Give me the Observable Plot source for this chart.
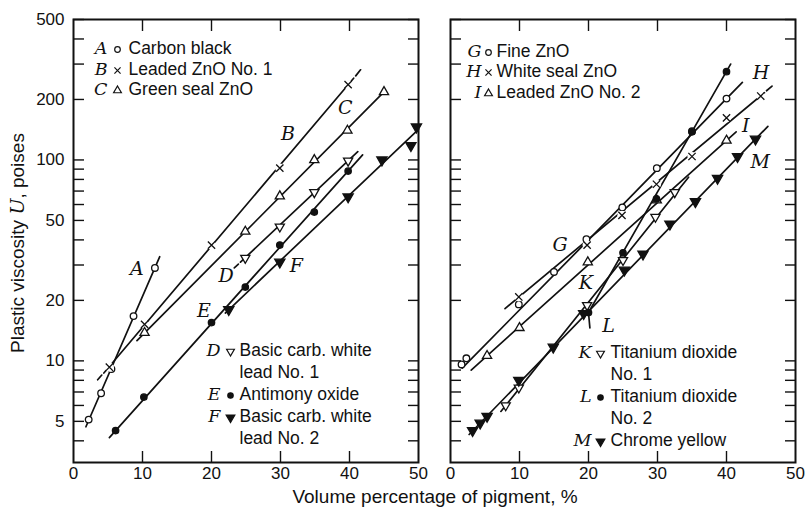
<!DOCTYPE html>
<html>
<head>
<meta charset="utf-8">
<script src="https://cdn.jsdelivr.net/npm/d3@7"></script>
<script src="https://cdn.jsdelivr.net/npm/@observablehq/plot@0.6"></script>
<style>
  body { margin: 0; background: #fff; }
  #chart { width: 806px; height: 514px; }
</style>
</head>
<body>
<div id="chart"></div>
<script>
// ---------------- DATA ----------------
const panels = ["left", "right"];
const xTicks = [0, 10, 20, 30, 40, 50];
const xInnerTicks = [10, 20, 30, 40];
const yTicks = [4, 5, 6, 7, 8, 9, 10, 20, 30, 40, 50, 60, 70, 80, 90, 100, 200, 300, 400, 500];
const yTickLabels = [5, 10, 20, 50, 100, 200, 500];

const seriesKeys  = ["A", "B", "C", "D", "E", "F", "G", "H", "I", "K", "L", "M"];
const seriesPanel = ["left", "left", "left", "left", "left", "left", "right", "right", "right", "right", "right", "right"];
const seriesNames = [
  "Carbon black", "Leaded ZnO No. 1", "Green seal ZnO",
  "Basic carb. white\nlead No. 1", "Antimony oxide", "Basic carb. white\nlead No. 2",
  "Fine ZnO", "White seal ZnO", "Leaded ZnO No. 2",
  "Titanium dioxide\nNo. 1", "Titanium dioxide\nNo. 2", "Chrome yellow"
];

// measured points: [volume %, plastic viscosity U (poises)]
const ptsA = [[2.2, 5.1], [4, 6.9], [5.5, 9.1], [8.7, 16.7], [11.8, 29]];
const ptsB = [[5.2, 9.3], [10.3, 15.2], [20, 37.7], [29.9, 91], [39.8, 237]];
const ptsC = [[10.3, 13.8], [24.9, 44], [29.9, 66], [34.9, 100], [39.7, 140], [45, 218]];
const ptsD = [[24.9, 32.5], [29.9, 46.5], [34.9, 69], [39.8, 99]];
const ptsE = [[6.1, 4.5], [10.2, 6.6], [20, 15.5], [24.9, 23.3], [29.9, 37.7], [34.9, 55], [39.8, 88]];
const ptsF = [[22.5, 18], [29.9, 31], [39.8, 65.5], [44.7, 100], [48.9, 118], [49.7, 146]];
const ptsG = [[1.6, 9.6], [2.3, 10.3], [9.9, 19.1], [15, 27.7], [19.7, 40.3], [24.9, 58], [29.9, 91], [35, 139], [40, 202]];
const ptsH = [[9.9, 20.8], [19.8, 37.7], [24.85, 53], [29.85, 75.7], [35, 104], [40, 162], [44.96, 208]];
const ptsI = [[5.3, 10.6], [10, 14.6], [19.9, 31], [29.9, 63], [40, 125]];
const ptsK = [[8, 6], [9.9, 7.35], [19.8, 18.9], [25, 31.7], [29.7, 52], [32.5, 69]];
const ptsL = [[20, 17.4], [25, 34.5], [29.85, 64], [35, 138], [40, 275]];
const ptsM = [[3.2, 4.5], [4.3, 4.9], [5.3, 5.3], [9.9, 8], [14.9, 11.7], [19.3, 17.2], [25.2, 28.3], [27.9, 34], [31.8, 48], [35.5, 62], [38.7, 81], [41.6, 104], [44.2, 127]];

// drawn fitted lines (vertices)
const fitA = [[1.8, 4.7], [12.5, 33]];
const fitB = [[4.4, 8.7], [40.6, 255]];
const fitC = [[9.2, 12.6], [45, 218]];
const fitD = [[24.2, 31], [41.2, 110]];
const fitE = [[5.2, 4.15], [41.9, 106]];
const fitF = [[22, 17.3], [50, 142]];
const fitG = [[1.7, 9.2], [20, 40], [42.3, 243]];
const fitH = [[7.9, 18.2], [45.5, 216]];
const fitI = [[3, 9.0], [41.4, 138]];
const fitK = [[7.3, 5.6], [34.5, 82]];
const fitL = [[20.2, 14.6], [20, 17.4], [40.6, 300]];
const fitM = [[2.7, 4.3], [46, 147]];
// short dashed ends drawn beyond the solid lines
const dashB = [[3.5, 8.05], [4.1, 8.5], [null, null], [40.9, 262], [41.6, 281]];
const dashD = [[23.3, 29], [23.9, 30.3]];
const dashH = [[45.8, 221], [46.6, 233]];

// where each curve letter is written (data units)
const labelX = [9.2, 31.1, 39.4, 22.1, 18.9, 32.3, 15.9, 45, 42.8, 19.6, 22.9, 44.9];
const labelU = [28.8, 135, 182, 26.6, 17.8, 29.8, 37.6, 272, 147, 24.3, 14.9, 97.3];

// ---------------- BUILD ----------------
const ptsOf = {A: ptsA, B: ptsB, C: ptsC, D: ptsD, E: ptsE, F: ptsF, G: ptsG, H: ptsH, I: ptsI, K: ptsK, L: ptsL, M: ptsM};
const fitOf = {A: fitA, B: fitB, C: fitC, D: fitD, E: fitE, F: fitF, G: fitG, H: fitH, I: fitI, K: fitK, L: fitL, M: fitM};
const dashOf = {B: dashB, D: dashD, H: dashH};

const triDown = {
  draw(ctx, size) {
    const y = Math.sqrt(size / (Math.sqrt(3) * 3));
    ctx.moveTo(0, 2 * y);
    ctx.lineTo(-Math.sqrt(3) * y, -y);
    ctx.lineTo(Math.sqrt(3) * y, -y);
    ctx.closePath();
  }
};
const INK = "#111";
const styleOf = {
  A: {symbol: "circle", r: 3.3, fill: "white", stroke: INK},
  B: {symbol: "times", r: 3.4, fill: "none", stroke: INK, halo: true},
  C: {symbol: "triangle", r: 3.4, fill: "white", stroke: INK},
  D: {symbol: triDown, r: 3.4, fill: "white", stroke: INK},
  E: {symbol: "circle", r: 3.2, fill: INK, stroke: INK},
  F: {symbol: triDown, r: 3.8, fill: INK, stroke: INK},
  G: {symbol: "circle", r: 3.3, fill: "white", stroke: INK},
  H: {symbol: "times", r: 3.4, fill: "none", stroke: INK, halo: true},
  I: {symbol: "triangle", r: 3.4, fill: "white", stroke: INK},
  K: {symbol: triDown, r: 3.4, fill: "white", stroke: INK},
  L: {symbol: "circle", r: 3.2, fill: INK, stroke: INK},
  M: {symbol: triDown, r: 3.8, fill: INK, stroke: INK}
};

const lineRows = seriesKeys.flatMap((k, i) => fitOf[k].map(([x, u]) => ({key: k, panel: seriesPanel[i], x, u})));
const dashRows = Object.keys(dashOf).flatMap(k => dashOf[k].map(([x, u]) => ({key: k, panel: seriesPanel[seriesKeys.indexOf(k)], x, u})));
const labelRows = seriesKeys.map((k, i) => ({key: k, panel: seriesPanel[i], x: labelX[i], u: labelU[i]}));

const SANS = "'Liberation Sans', Arial, Helvetica, sans-serif";
const SERIF = "'DejaVu Serif', 'Liberation Serif', serif";

const marks = [];
marks.push(Plot.line(lineRows, {x: "x", y: "u", z: "key", fx: "panel", stroke: INK, strokeWidth: 1.7}));
marks.push(Plot.line(dashRows, {x: "x", y: "u", z: "key", fx: "panel", stroke: INK, strokeWidth: 1.7}));

seriesKeys.forEach((k, i) => {
  const rows = ptsOf[k].map(([x, u]) => ({panel: seriesPanel[i], x, u}));
  const s = styleOf[k];
  if (s.halo) marks.push(Plot.dot(rows, {x: "x", y: "u", fx: "panel", r: 4.6, fill: "white", stroke: "none"}));
  marks.push(Plot.dot(rows, {x: "x", y: "u", fx: "panel", symbol: s.symbol, r: s.r, fill: s.fill, stroke: s.stroke, strokeWidth: 1.3}));
});

marks.push(Plot.text(labelRows, {x: "x", y: "u", fx: "panel", text: "key", fontFamily: SERIF, fontStyle: "italic", fontSize: 19, fill: INK}));

// legends (layout: panel, corner, row offsets)
const legendLayout = [
  {keys: ["A", "B", "C"], panel: "left", anchor: "top-left", dy0: 29, step: [21, 20], letterDx: 34, symDx: 44, textDx: 55},
  {keys: ["D", "E", "F"], panel: "left", anchor: "bottom-left", dy0: -112, step: [22], letterDx: 147, symDx: 157, textDx: 166},
  {keys: ["G", "H", "I"], panel: "right", anchor: "top-left", dy0: 32, step: [20, 21], letterDx: 31, symDx: 38, textDx: 46},
  {keys: ["K", "L", "M"], panel: "right", anchor: "bottom-left", dy0: -110, step: [22], letterDx: 141, symDx: 150, textDx: 160}
];
legendLayout.forEach(L => {
  let dy = L.dy0, n = 0;
  const d = [{panel: L.panel}];
  L.keys.forEach(k => {
    const i = seriesKeys.indexOf(k);
    const s = styleOf[k];
    marks.push(Plot.text(d, {fx: "panel", frameAnchor: L.anchor, dx: L.letterDx, dy, text: () => k, textAnchor: "end", lineAnchor: "middle", fontFamily: SERIF, fontStyle: "italic", fontSize: 17.5, fill: INK}));
    marks.push(Plot.dot(d, {fx: "panel", frameAnchor: L.anchor, dx: L.symDx, dy: dy + 1, symbol: s.symbol, r: s.r * 0.85, fill: s.fill, stroke: s.stroke, strokeWidth: 1.2}));
    seriesNames[i].split("\n").forEach(line => {
      marks.push(Plot.text(d, {fx: "panel", frameAnchor: L.anchor, dx: L.textDx, dy, text: () => line, textAnchor: "start", lineAnchor: "middle", fontFamily: SANS, fontSize: 17.5, fill: INK}));
      dy += L.step[Math.min(n, L.step.length - 1)];
      n++;
    });
  });
});

// axes
marks.push(Plot.frame({stroke: INK, strokeWidth: 2}));
marks.push(Plot.axisY({anchor: "left", ticks: yTicks, tickSize: -11, tickFormat: () => "", label: null, facetAnchor: null, stroke: INK, strokeWidth: 1.4}));
marks.push(Plot.axisY({anchor: "right", ticks: yTicks, tickSize: -11, tickFormat: () => "", label: null, facetAnchor: null, stroke: INK, strokeWidth: 1.4}));
marks.push(Plot.axisX({anchor: "bottom", ticks: xInnerTicks, tickSize: -11, tickFormat: () => "", label: null, facetAnchor: null, stroke: INK, strokeWidth: 1.4}));
marks.push(Plot.axisX({anchor: "top", ticks: xInnerTicks, tickSize: -11, tickFormat: () => "", label: null, facetAnchor: null, stroke: INK, strokeWidth: 1.4}));
marks.push(Plot.axisY({anchor: "left", ticks: yTickLabels, tickSize: 0, tickPadding: 9, tickFormat: d => String(d), label: null, facetAnchor: "left", fontSize: 17, fill: INK}));
marks.push(Plot.axisX({anchor: "bottom", ticks: xTicks, tickSize: 0, tickPadding: 4, tickFormat: d => String(d), label: null, facetAnchor: "bottom", fontSize: 17, fill: INK}));

const chart = Plot.plot({
  width: 806,
  height: 514,
  marginLeft: 73,
  marginRight: 11,
  marginTop: 19,
  marginBottom: 52,
  x: {domain: [0, 50]},
  y: {type: "log", domain: [3.12, 500]},
  fx: {domain: panels, paddingInner: 0.085, paddingOuter: 0, axis: null, label: null},
  style: {fontFamily: SANS, color: INK, background: "white", overflow: "visible"},
  marks
});
document.getElementById("chart").appendChild(chart);

// axis titles (with italic U)
const svg = d3.select(chart.tagName.toLowerCase() === "svg" ? chart : chart.querySelector("svg"));
svg.append("text")
  .attr("x", 435).attr("y", 503)
  .attr("text-anchor", "middle")
  .attr("font-family", SANS).attr("font-size", 19).attr("fill", INK)
  .text("Volume percentage of pigment, %");
const yt = svg.append("text")
  .attr("transform", "translate(24,243) rotate(-90)")
  .attr("text-anchor", "middle")
  .attr("font-family", SANS).attr("font-size", 19).attr("fill", INK);
yt.append("tspan").text("Plastic viscosity ");
yt.append("tspan").attr("font-family", SERIF).attr("font-style", "italic").text("U");
yt.append("tspan").text(", poises");
</script>
</body>
</html>
